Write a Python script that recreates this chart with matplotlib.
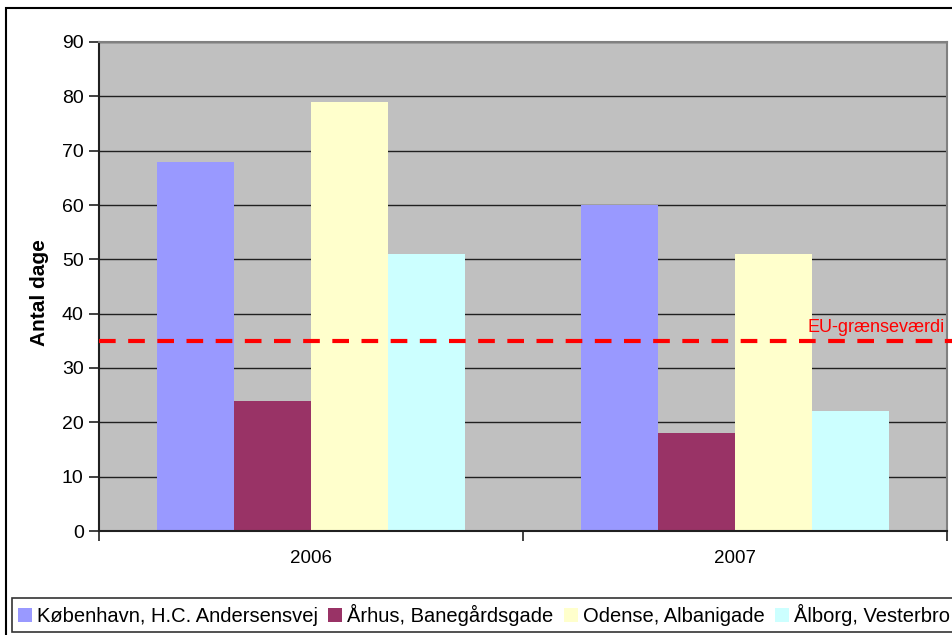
import numpy as np
import matplotlib.pyplot as plt
from matplotlib.patches import Rectangle, Patch

# Antal dage med overskridelse pr. målestation
aar = ["2006", "2007"]
stationer = ["København, H.C. Andersensvej", "Århus, Banegårdsgade",
             "Odense, Albanigade", "Ålborg, Vesterbro"]
koebenhavn = [68, 60]
aarhus = [24, 18]
odense = [79, 51]
aalborg = [51, 22]
eu_graense = 35

farver = ["#9999FF", "#993366", "#FFFFCC", "#CCFFFF"]
serier = [koebenhavn, aarhus, odense, aalborg]

plt.rcParams['font.family'] = ['Liberation Sans', 'DejaVu Sans']

fig = plt.figure(figsize=(9.52, 6.35), dpi=100)
ax = fig.add_axes([99 / 952, 1 - 531 / 635, 848 / 952, 489 / 635])
ax.set_facecolor("#C0C0C0")

x = np.arange(len(aar))
w = 1 / 5.5
for i, (vals, c) in enumerate(zip(serier, farver)):
    ax.bar(x + (i - 1.5) * w, vals, width=w, color=c, edgecolor="none", zorder=2)

ax.set_xlim(-0.5, 1.5)
ax.set_ylim(0, 90)
ax.set_yticks(range(0, 91, 10))
ax.yaxis.grid(True, color="#202020", linewidth=1, zorder=1)
ax.set_axisbelow(True)

# kategoriakse: streger mellem grupperne, etiketter i midten
ax.set_xticks([-0.5, 0.5, 1.5])
ax.set_xticklabels([])
ax.set_xticks(x, minor=True)
ax.set_xticklabels(aar, minor=True)
ax.tick_params(axis="x", which="major", length=7, width=1.2, color="#202020", direction="out")
ax.tick_params(axis="x", which="minor", length=0, pad=14, labelsize=13.5)
ax.tick_params(axis="y", length=7, width=1.2, color="#202020", labelsize=14, pad=4)

for s in ["top", "right"]:
    ax.spines[s].set_color("#808080")
    ax.spines[s].set_linewidth(1.5)
for s in ["left", "bottom"]:
    ax.spines[s].set_color("#202020")
    ax.spines[s].set_linewidth(1.5)

ax.set_ylabel("Antal dage", fontsize=15, fontweight="bold")
ax.yaxis.set_label_coords(-0.059, 0.487)

# EU-grænseværdi
ax.plot([-0.5, 1.55], [eu_graense, eu_graense], color="#FF0000", linewidth=3,
        dashes=(4, 3), clip_on=False, zorder=4)
ax.text(1.172, eu_graense + 1.7, "EU-grænseværdi", color="#FF0000",
        fontsize=13, va="baseline", ha="left", clip_on=False, zorder=4)

# ramme om hele diagrammet
fig.patches.append(Rectangle((6 / 952, -0.05), 1.1, 1 - 8 / 635 + 0.05,
                             transform=fig.transFigure, fill=False,
                             edgecolor="black", linewidth=1.5))

handles = [Patch(facecolor=c, edgecolor="none") for c in farver]
leg = fig.legend(handles, stationer, ncol=4, loc="lower left",
                 bbox_to_anchor=(12 / 952, 3 / 635), fontsize=14.5,
                 frameon=True, fancybox=False, handlelength=0.7,
                 handleheight=0.7, handletextpad=0.25, columnspacing=0.5,
                 borderpad=0.3, borderaxespad=0)
leg.get_frame().set_edgecolor("black")
leg.get_frame().set_linewidth(1.2)

fig.savefig("out.png", dpi=100)
